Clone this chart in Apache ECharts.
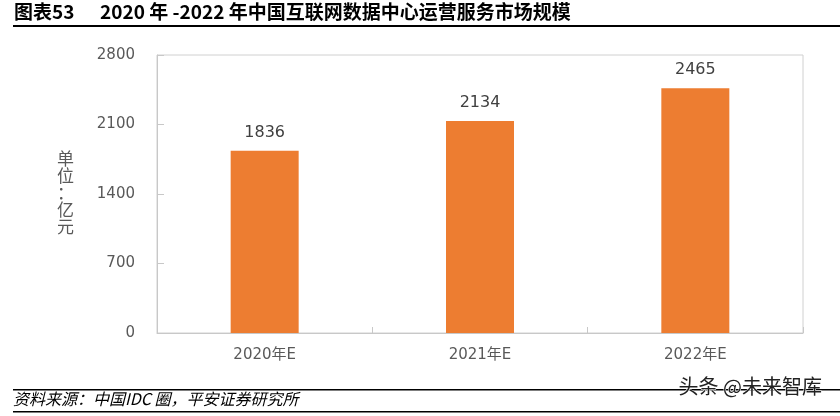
<!DOCTYPE html>
<html><head><meta charset="utf-8">
<script src="https://cdn.jsdelivr.net/npm/echarts@6/dist/echarts.min.js"></script>
<style>html,body{margin:0;padding:0;background:#fff}#c{width:840px;height:416px}</style>
</head><body><div id="c"></div>
<script>
var categories = ['2020年E', '2021年E', '2022年E'];
var values = [1836, 2134, 2465];
var yTicks = [0, 700, 1400, 2100, 2800];

var chart = echarts.init(document.getElementById('c'));
var cjk = '"Noto Sans CJK SC", "Noto Sans", sans-serif';
var wide = '"DejaVu Sans", "Noto Sans CJK SC", sans-serif';
chart.setOption({
  animation: false,
  backgroundColor: '#fff',
  grid: { left: 157, right: 37, top: 55, bottom: 83, show: true, borderColor: '#d0d0d0', borderWidth: 1, backgroundColor: 'transparent' },
  xAxis: {
    type: 'category', data: categories,
    axisLine: { lineStyle: { color: '#c8c8c8', width: 1 } },
    axisTick: { show: true, inside: true, length: 6, lineStyle: { color: '#c8c8c8' } },
    axisLabel: { color: '#595959', fontSize: 15, margin: 15, fontFamily: wide }
  },
  yAxis: {
    type: 'value', min: yTicks[0], max: yTicks[yTicks.length - 1], interval: 700,
    axisLine: { show: true, lineStyle: { color: '#c8c8c8', width: 1 } },
    axisTick: { show: true, inside: true, length: 7, lineStyle: { color: '#c8c8c8' } },
    splitLine: { show: false },
    axisLabel: { color: '#595959', fontSize: 15, margin: 22, fontFamily: wide, formatter: function (v) { return String(v); } }
  },
  series: [{
    type: 'bar', data: values, barWidth: 68,
    itemStyle: { color: '#ED7D31' },
    label: { show: true, position: 'top', distance: 10, color: '#404040', fontSize: 16, fontFamily: wide }
  }],
  graphic: [
    { type: 'text', left: 14, top: 2, style: { text: '图表53', font: 'bold 19px ' + cjk, fill: '#000' } },
    { type: 'text', left: 100, top: 2, style: { text: '2020 年 -2022 年中国互联网数据中心运营服务市场规模', font: 'bold 19px ' + cjk, fill: '#000' } },
    { type: 'rect', shape: { x: 13, y: 25, width: 827, height: 2 }, style: { fill: '#000' } },
    { type: 'text', left: 57, top: 150, style: { text: '单\n位\n：\n亿\n元', font: '17px ' + cjk, fill: '#595959', lineHeight: 17, align: 'center' } },
    { type: 'rect', shape: { x: 13, y: 389, width: 827, height: 1.5 }, style: { fill: '#000' } },
    { type: 'text', left: 13, top: 391, style: { text: '资料来源：中国IDC 圈，平安证券研究所', font: 'italic 16px ' + cjk, fill: '#000' } },
    { type: 'rect', shape: { x: 13, y: 411, width: 827, height: 1.5 }, style: { fill: '#000' } },
    { type: 'text', left: 678, top: 376, style: { text: '头条 @未来智库', font: '20px ' + cjk, fill: '#222', stroke: '#fff', lineWidth: 1 } }
  ]
});
</script></body></html>
